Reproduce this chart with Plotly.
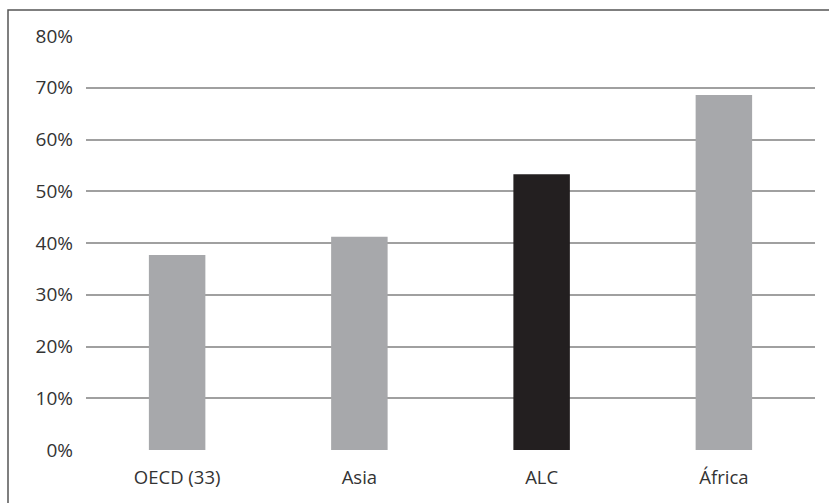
import plotly.graph_objects as go

categories = ["OECD (33)", "Asia", "ALC", "África"]
values = [37.7, 41.2, 53.3, 68.6]
bar_colors = ["#a7a8ab", "#a7a8ab", "#231f20", "#a7a8ab"]
y_ticks = [0, 10, 20, 30, 40, 50, 60, 70, 80]
y_tick_labels = [f"{t}%" for t in y_ticks]

fig = go.Figure(go.Bar(
    x=categories, y=values, marker=dict(color=bar_colors, line=dict(width=0)),
    width=0.31, hoverinfo="skip"
))

W, H = 829, 503
L, R, T, B = 86, 14, 36, 53
pw, ph = W - L - R, H - T - B

fig.update_layout(
    width=W, height=H,
    margin=dict(l=L, r=R, t=T, b=B),
    paper_bgcolor="white", plot_bgcolor="white",
    showlegend=False,
    font=dict(family="Open Sans, Noto Sans, sans-serif", size=18.5, color="#333333"),
    xaxis=dict(showgrid=False, showline=False, ticks="", zeroline=False,
               tickfont=dict(size=18.5), ticklabelstandoff=14),
    yaxis=dict(range=[0, 80], tickvals=y_ticks, ticktext=y_tick_labels,
               showgrid=True, gridcolor="#a0a0a0", gridwidth=1.5,
               zeroline=False, showline=False, ticks="",
               tickfont=dict(size=19), ticklabelstandoff=12),
    shapes=[dict(type="rect", xref="paper", yref="paper",
                 x0=(8 - L) / pw, x1=1.2, y0=-0.3, y1=1 + (T - 10) / ph,
                 line=dict(color="#555555", width=1.5), fillcolor="rgba(0,0,0,0)",
                 layer="below")],
)

fig.write_html("out.html")
